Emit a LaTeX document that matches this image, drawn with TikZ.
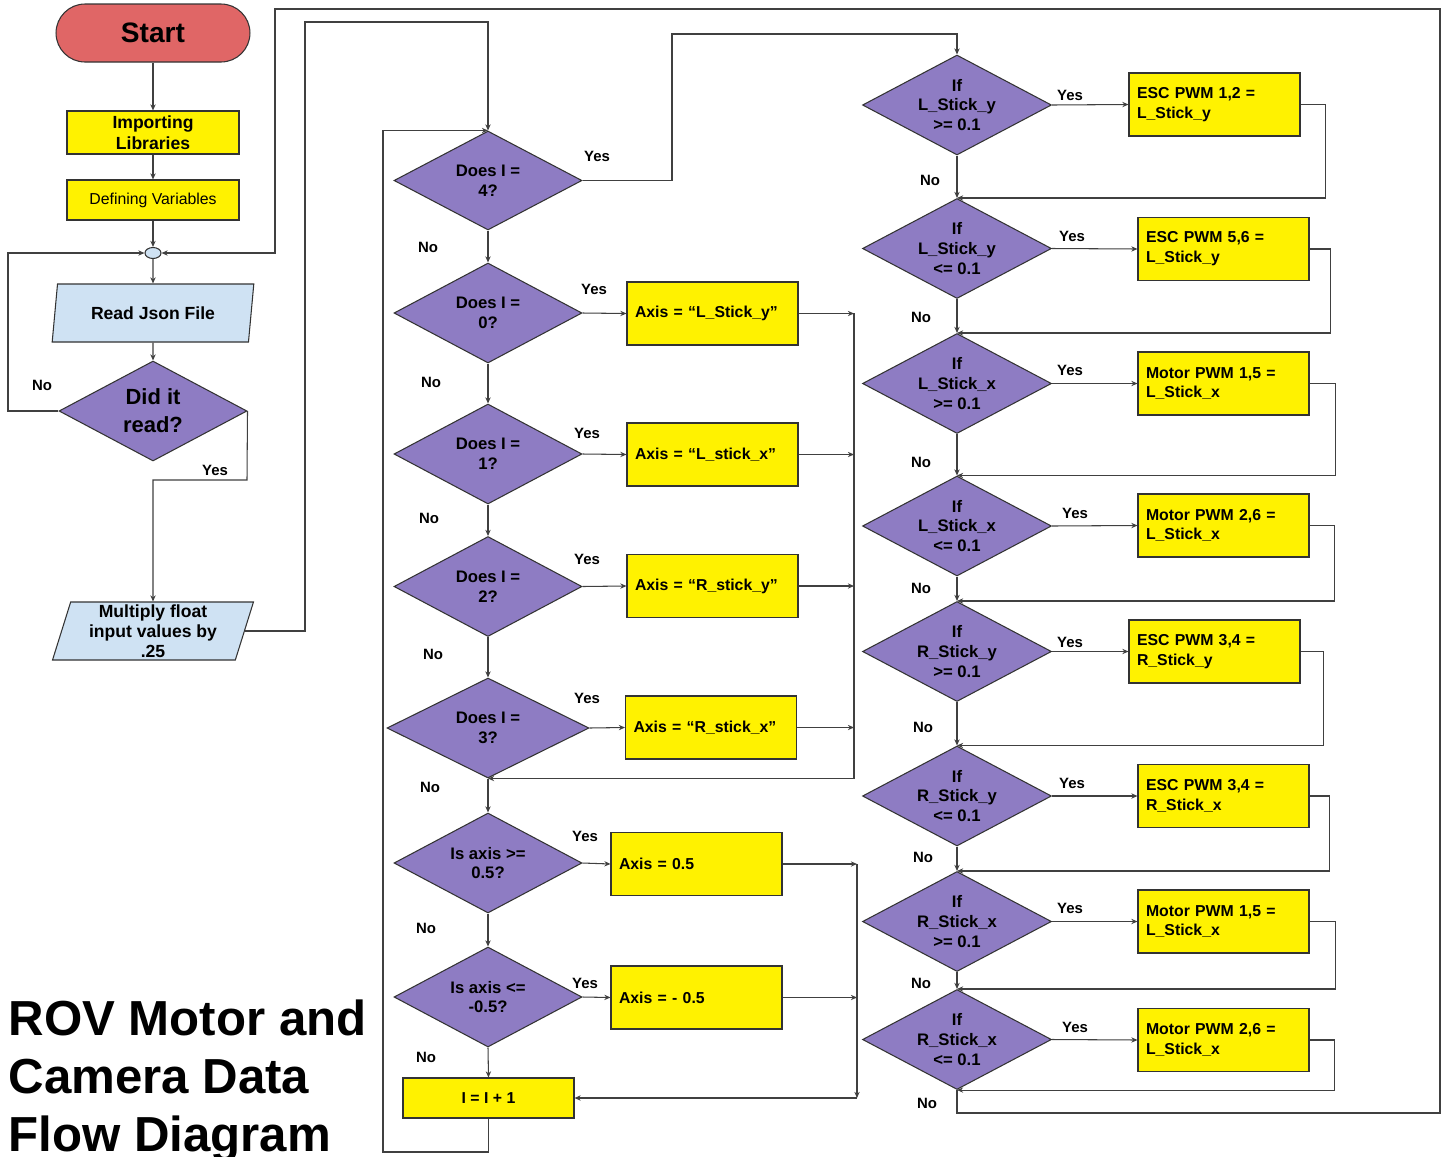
\documentclass[tikz,border=0pt]{standalone}
\usepackage{fontspec}
\setmainfont{Liberation Sans}
\usetikzlibrary{shapes.geometric, arrows.meta}
\definecolor{startred}{HTML}{E06666}
\definecolor{decpurple}{HTML}{8E7CC3}
\definecolor{iolblue}{HTML}{CFE2F3}

\begin{document}
\begin{tikzpicture}[x = 0.02cm, y = -0.02cm,
		font = \fontsize{9}{11.3}\selectfont\bfseries,
		line width = 0.6pt,
		wire/.style = {draw = black!75, -{Stealth[length = 3.5pt, width = 3pt]}},
		terminal/.style = {draw = black!80, fill = startred, rounded corners = 0.58cm,
			minimum width = 3.88cm, minimum height = 1.16cm,
			font = \fontsize{16}{19}\selectfont\bfseries},
		process/.style = {draw = black!80, fill = yellow, minimum width = 3.44cm,
			minimum height = 0.86cm, align = center, inner sep = 1pt,
			font = \fontsize{10}{11.9}\selectfont\bfseries},
		action/.style = {draw = black!80, fill = yellow, minimum height = 1.26cm,
			text width = 3.1cm, inner xsep = 0.16cm, align = left},
		decision/.style = {draw = black!80, fill = decpurple, diamond, shape aspect = 1.9,
			minimum width = 3.76cm, minimum height = 2cm, inner sep = 0pt, align = center,
			font = \fontsize{9.5}{11.3}\selectfont\bfseries},
		inout/.style = {draw = black!80, fill = iolblue, trapezium,
			trapezium left angle = 75, trapezium right angle = 105,
			trapezium stretches = true, minimum width = 4.04cm, minimum height = 1.16cm,
			align = center, inner sep = 0pt, font = \fontsize{10}{11.3}\selectfont\bfseries},
		answer/.style = {font = \fontsize{8.5}{10}\selectfont\bfseries, inner sep = 0pt},
		heading/.style = {anchor = base west, inner sep = 0pt,
			font = \fontsize{28}{33}\selectfont\bfseries},
	]
		\useasboundingbox (0, 0) rectangle (1445, 1157);
		\fill [white] (0, 0) rectangle (1445, 1157);

		% start-up column
		\path (153, 33) node (start) [terminal] {Start};
		\path (153, 132.5) node (imp) [process] {Importing\\Libraries};
		\path (153, 200) node (def) [process, minimum height = 0.8cm,
			font = \fontsize{9}{11}\selectfont\mdseries] {Defining Variables};
		\path (153, 253) node (junc) [draw = black!80, fill = iolblue, ellipse,
			minimum width = 0.32cm, minimum height = 0.22cm, inner sep = 0pt] {};
		\path (153, 313) node (read) [inout] {Read Json File};
		\path (153, 411) node (did) [decision,
			font = \fontsize{12.5}{15.9}\selectfont\bfseries] {Did it\\read?};
		\path (153, 631) node (mult) [inout] {Multiply float\\input values by\\.25};

		% axis selection column
		\path (488, 180.5) node (d4) [decision, minimum height = 1.98cm] {Does I =\\4?};
		\path (488, 313) node (d0) [decision] {Does I =\\0?};
		\path (488, 454) node (d1) [decision] {Does I =\\1?};
		\path (488, 586.5) node (d2) [decision] {Does I =\\2?};
		\path (488, 728) node (d3) [decision, minimum width = 4.04cm] {Does I =\\3?};
		\path (488, 863) node (ge) [decision] {Is axis >=\\0.5?};
		\path (488, 997) node (le) [decision] {Is axis <=\\-0.5?};
		\path (488.5, 1098) node (inc) [process, minimum width = 3.42cm,
			minimum height = 0.8cm, font = \fontsize{9}{11}\selectfont\bfseries] {I = I + 1};

		\path (712.5, 313.5) node (ly) [action] {Axis = “L\_Stick\_y”};
		\path (712.5, 454.5) node (lx) [action] {Axis = “L\_stick\_x”};
		\path (712.5, 586) node (ry) [action] {Axis = “R\_stick\_y”};
		\path (711, 727.5) node (rx) [action] {Axis = “R\_stick\_x”};
		\path (696.5, 864) node (p5) [action] {Axis = 0.5};
		\path (696.5, 997.5) node (m5) [action] {Axis = - 0.5};

		% output column
		\path (957, 105) node (r1) [decision, minimum width = 3.78cm] {If\\L\_Stick\_y\\>= 0.1};
		\path (957, 248.5) node (r2) [decision, minimum width = 3.78cm] {If\\L\_Stick\_y\\<= 0.1};
		\path (957, 383.5) node (r3) [decision, minimum width = 3.78cm] {If\\L\_Stick\_x\\>= 0.1};
		\path (957, 526) node (r4) [decision, minimum width = 3.78cm] {If\\L\_Stick\_x\\<= 0.1};
		\path (957, 651.5) node (r5) [decision, minimum width = 3.78cm] {If\\R\_Stick\_y\\>= 0.1};
		\path (957, 796) node (r6) [decision, minimum width = 3.78cm] {If\\R\_Stick\_y\\<= 0.1};
		\path (957, 921.5) node (r7) [decision, minimum width = 3.78cm] {If\\R\_Stick\_x\\>= 0.1};
		\path (957, 1039.5) node (r8) [decision, minimum width = 3.78cm] {If\\R\_Stick\_x\\<= 0.1};

		\path (1214.5, 104.5) node (e1) [action] {ESC PWM 1,2 =\\L\_Stick\_y};
		\path (1223.5, 249) node (e2) [action] {ESC PWM 5,6 =\\L\_Stick\_y};
		\path (1223.5, 383.5) node (e3) [action] {Motor PWM 1,5 =\\L\_Stick\_x};
		\path (1223.5, 525.5) node (e4) [action] {Motor PWM 2,6 =\\L\_Stick\_x};
		\path (1214.5, 651.5) node (e5) [action] {ESC PWM 3,4 =\\R\_Stick\_y};
		\path (1223.5, 796) node (e6) [action] {ESC PWM 3,4 =\\R\_Stick\_x};
		\path (1223.5, 921.5) node (e7) [action] {Motor PWM 1,5 =\\L\_Stick\_x};
		\path (1223.5, 1040) node (e8) [action] {Motor PWM 2,6 =\\L\_Stick\_x};

		% bends of the long connectors
		\coordinate (noleft) at (8, 411);
		\coordinate (yesbend) at (247, 480);
		\coordinate (multup) at (305, 22);
		\coordinate (yesup) at (672, 34);
		\coordinate (loopleft) at (383, 1152);
		\coordinate (axbus) at (854, 313);
		\coordinate (valbus) at (857, 864);
		\coordinate (outerbr) at (1440, 1113);
		\coordinate (outertr) at (1440, 9);
		\coordinate (outertl) at (275, 9);

		% connectors
		\draw [wire] (start.south) -- (imp.north);
		\draw [wire] (imp.south) -- (def.north);
		\draw [wire] (def.south) -- (junc.north);
		\draw [wire] (junc.south) -- (read.north);
		\draw [wire] (read.south) -- (did.north);
		\draw [wire] (did.west) -- (noleft) |- (junc.west);
		\draw [wire] (did.east) -- (yesbend) -| (mult.north);
		\draw [wire] (mult.east) -| (multup) -| (d4.north);

		\draw [wire] (d4.south) -- (d0.north);
		\draw [wire] (d0.south) -- (d1.north);
		\draw [wire] (d1.south) -- (d2.north);
		\draw [wire] (d2.south) -- (d3.north);
		\draw [wire] (d3.south) -- (ge.north);
		\draw [wire] (ge.south) -- (le.north);
		\draw [wire] (le.south) -- (inc.north);
		\draw [wire] (d0.east) -- (ly.west);
		\draw [wire] (d1.east) -- (lx.west);
		\draw [wire] (d2.east) -- (ry.west);
		\draw [wire] (d3.east) -- (rx.west);
		\draw [wire] (ly.east) -- (ly.east -| axbus);
		\draw [wire] (lx.east) -- (lx.east -| axbus);
		\draw [wire] (ry.east) -- (ry.east -| axbus);
		\draw [wire] (rx.east) -- (rx.east -| axbus);
		\draw [wire] (axbus) |- (d3.south);
		\draw [wire] (ge.east) -- (p5.west);
		\draw [wire] (le.east) -- (m5.west);
		\draw [wire] (p5.east) -- (p5.east -| valbus);
		\draw [wire] (m5.east) -- (m5.east -| valbus);
		\draw [wire] (valbus) -- (inc.east -| valbus);
		\draw [wire] (inc.east -| valbus) -- (inc.east);
		\draw [wire] (inc.south) |- (loopleft) |- (d4.north);
		\draw [wire] (d4.east) -| (yesup) -| (r1.north);

		\draw [wire] (r1.east) -- (e1.west);
		\draw [wire] (r2.east) -- (e2.west);
		\draw [wire] (r3.east) -- (e3.west);
		\draw [wire] (r4.east) -- (e4.west);
		\draw [wire] (r5.east) -- (e5.west);
		\draw [wire] (r6.east) -- (e6.west);
		\draw [wire] (r7.east) -- (e7.west);
		\draw [wire] (r8.east) -- (e8.west);
		\draw [wire] (r1.south) -- (r2.north);
		\draw [wire] (r2.south) -- (r3.north);
		\draw [wire] (r3.south) -- (r4.north);
		\draw [wire] (r4.south) -- (r5.north);
		\draw [wire] (r5.south) -- (r6.north);
		\draw [wire] (r6.south) -- (r7.north);
		\draw [wire] (r7.south) -- (r8.north);
		\draw [wire] (e1.east) -- ++(25, 0) |- (r2.north);
		\draw [wire] (e2.east) -- ++(21, 0) |- (r3.north);
		\draw [wire] (e3.east) -- ++(26, 0) |- (r4.north);
		\draw [wire] (e4.east) -- ++(25, 0) |- (r5.north);
		\draw [wire] (e5.east) -- ++(23, 0) |- (r6.north);
		\draw [wire] (e6.east) -- ++(20, 0) |- (r7.north);
		\draw [wire] (e7.east) -- ++(26, 0) |- (r8.north);
		\draw [wire] (e8.east) -- ++(25, 0) |- (r8.south);
		\draw [wire] (r8.south) |- (outerbr) -- (outertr) -- (outertl) |- (junc.east);

		% yes / no labels
		\path (42, 385) node (didno) [answer] {No};
		\path (215, 470) node (didyes) [answer] {Yes};
		\path (597, 156) node (d4yes) [answer] {Yes};
		\path (428, 247) node (d4no) [answer] {No};
		\path (594, 289) node (d0yes) [answer] {Yes};
		\path (431, 382) node (d0no) [answer] {No};
		\path (587, 433) node (d1yes) [answer] {Yes};
		\path (429, 518) node (d1no) [answer] {No};
		\path (587, 559) node (d2yes) [answer] {Yes};
		\path (433, 654) node (d2no) [answer] {No};
		\path (587, 698) node (d3yes) [answer] {Yes};
		\path (430, 787) node (d3no) [answer] {No};
		\path (585, 836) node (geyes) [answer] {Yes};
		\path (426, 928) node (geno) [answer] {No};
		\path (585, 983) node (leyes) [answer] {Yes};
		\path (426, 1057) node (leno) [answer] {No};
		\path (1070, 95) node (r1yes) [answer] {Yes};
		\path (930, 180) node (r1no) [answer] {No};
		\path (1072, 236) node (r2yes) [answer] {Yes};
		\path (921, 317) node (r2no) [answer] {No};
		\path (1070, 370) node (r3yes) [answer] {Yes};
		\path (921, 462) node (r3no) [answer] {No};
		\path (1075, 513) node (r4yes) [answer] {Yes};
		\path (921, 588) node (r4no) [answer] {No};
		\path (1070, 642) node (r5yes) [answer] {Yes};
		\path (923, 727) node (r5no) [answer] {No};
		\path (1072, 783) node (r6yes) [answer] {Yes};
		\path (923, 857) node (r6no) [answer] {No};
		\path (1070, 908) node (r7yes) [answer] {Yes};
		\path (921, 983) node (r7no) [answer] {No};
		\path (1075, 1027) node (r8yes) [answer] {Yes};
		\path (927, 1103) node (r8no) [answer] {No};

		% title
		\path (8, 1035) node (title1) [heading] {ROV Motor and};
		\path (8, 1093) node (title2) [heading] {Camera Data};
		\path (8, 1151) node (title3) [heading] {Flow Diagram};
	\end{tikzpicture}
\end{document}
